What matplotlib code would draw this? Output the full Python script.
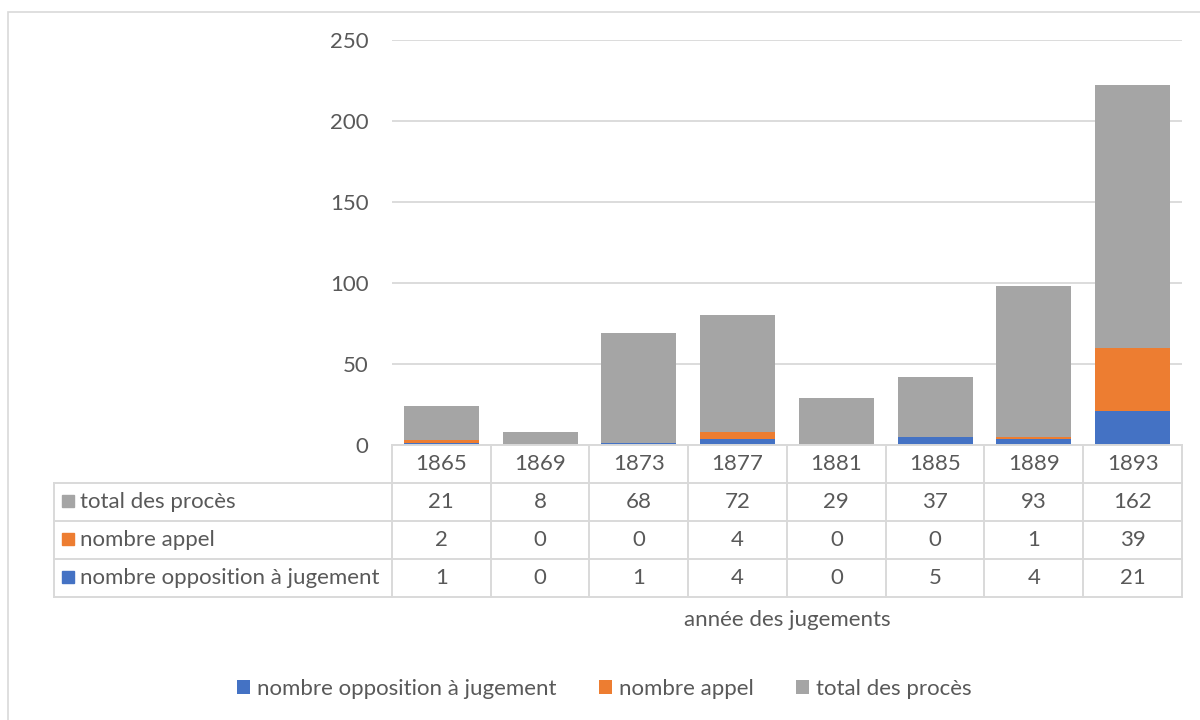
import numpy as np
import matplotlib
matplotlib.use("Agg")
import matplotlib.pyplot as plt
from matplotlib.patches import Rectangle, Patch

plt.rcParams['font.family'] = ['Lato', 'DejaVu Sans']

years = ['1865', '1869', '1873', '1877', '1881', '1885', '1889', '1893']
opposition = [1, 0, 1, 4, 0, 5, 4, 21]
appel = [2, 0, 0, 4, 0, 0, 1, 39]
total = [21, 8, 68, 72, 29, 37, 93, 162]

series_names = ['nombre opposition à jugement', 'nombre appel', 'total des procès']
colors = ['#4472C4', '#ED7D31', '#A5A5A5']
yticks = [0, 50, 100, 150, 200, 250]

txt = '#595959'
grid = '#D9D9D9'
fs = 16

W, H = 1200, 720
fig = plt.figure(figsize=(W / 100, H / 100), dpi=100)

# outer frame (only left and top edges fall inside the image)
fig.patches.append(Rectangle((8 / W, -0.1), 1.2, 1 - 11.5 / H + 0.1,
                             transform=fig.transFigure, fill=False,
                             edgecolor=grid, lw=1.2))

def px(x0, y0, x1, y1):
    return [x0 / W, 1 - y1 / H, (x1 - x0) / W, (y1 - y0) / H]

# bar chart
ax = fig.add_axes(px(392, 40, 1182, 445))
x = np.arange(len(years))
b1 = np.array(opposition)
b2 = b1 + np.array(appel)
ax.bar(x, opposition, width=0.76, color=colors[0], zorder=3)
ax.bar(x, appel, bottom=b1, width=0.76, color=colors[1], zorder=3)
ax.bar(x, total, bottom=b2, width=0.76, color=colors[2], zorder=3)
ax.set_xlim(-0.5, len(years) - 0.5)
ax.set_ylim(0, 250)
ax.set_yticks(yticks)
ax.set_yticklabels([str(v) for v in yticks], color=txt, fontsize=fs)
ax.yaxis.grid(True, color=grid, lw=1.3, zorder=0)
ax.tick_params(axis='y', length=0, pad=17)
ax.set_xticks([])
for s in ax.spines.values():
    s.set_visible(False)

# data table below the bars
tab = fig.add_axes(px(54, 445, 1182, 597))
lab_w = (392 - 54) / 98.75
left = -0.5 - lab_w
n = len(years)
tab.set_xlim(left, n - 0.5)
tab.set_ylim(4, 0)
tab.axis('off')
lc = dict(color=grid, lw=1.4, clip_on=False)
tab.plot([-0.5, n - 0.5], [0, 0], **lc)
for r in range(1, 5):
    tab.plot([left, n - 0.5], [r, r], **lc)
for c in range(n + 1):
    tab.plot([c - 0.5, c - 0.5], [0, 4], **lc)
tab.plot([left, left], [1, 4], **lc)

for i, yr in enumerate(years):
    tab.text(i, 0.5, yr, ha='center', va='center', color=txt, fontsize=fs)

rows = [(series_names[2], colors[2], total),
        (series_names[1], colors[1], appel),
        (series_names[0], colors[0], opposition)]
for r, (name, col, vals) in enumerate(rows, start=1):
    tab.plot(left + 0.145, r + 0.48, 's', color=col, ms=8.5, clip_on=False)
    tab.text(left + 0.265, r + 0.5, name, ha='left', va='center',
             color=txt, fontsize=fs)
    for i, v in enumerate(vals):
        tab.text(i, r + 0.5, str(v), ha='center', va='center',
                 color=txt, fontsize=fs)

fig.text(787 / W, 1 - 620 / H, 'année des jugements', ha='center',
         va='center', color=txt, fontsize=fs)

handles = [Patch(facecolor=c, edgecolor='none') for c in colors]
fig.legend(handles, series_names, loc='center', ncol=3, frameon=False,
           bbox_to_anchor=(604 / W, 1 - 689 / H), fontsize=fs,
           labelcolor=txt, handlelength=0.6, handleheight=0.6,
           handletextpad=0.3, columnspacing=1.9)

fig.savefig('out.png', dpi=100)
